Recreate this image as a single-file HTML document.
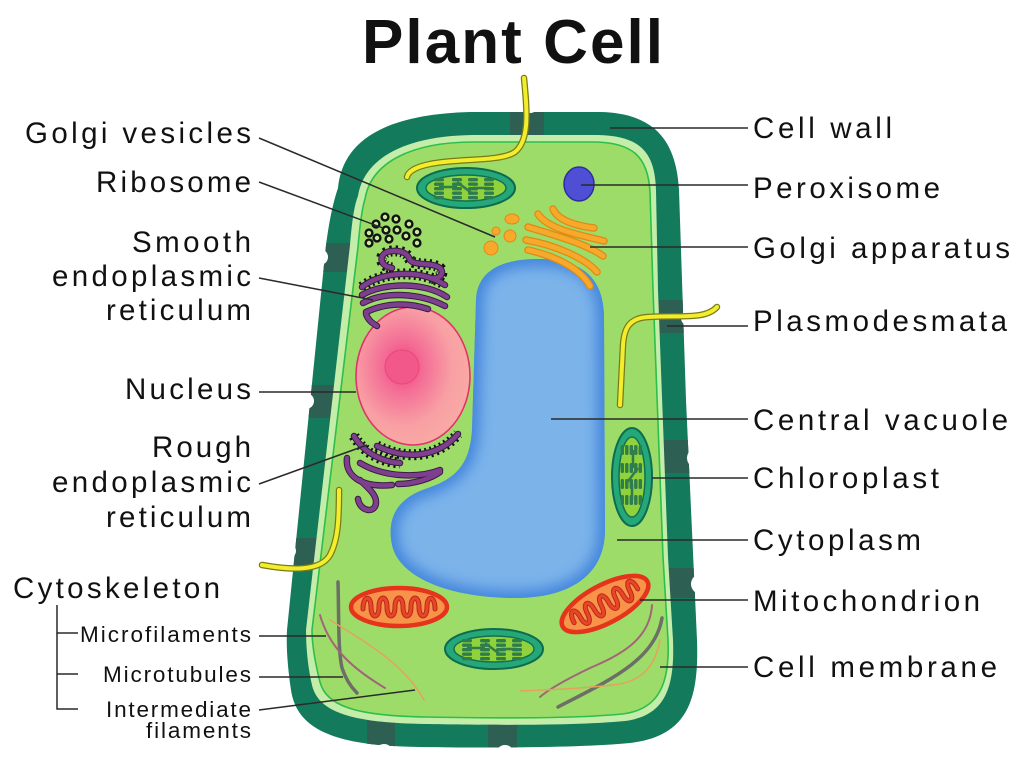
<!DOCTYPE html>
<html><head><meta charset="utf-8"><style>
html,body{margin:0;padding:0;background:#fff;}
svg{display:block;}
text{font-family:"Liberation Sans",Arial,sans-serif;fill:#111;}
</style></head><body>
<svg width="1024" height="759" viewBox="0 0 1024 759" xmlns="http://www.w3.org/2000/svg">
<defs>
<clipPath id="wallClip"><path d="M 338,188 C 343,135 395,114 470,112 L 600,112 C 650,113 676,136 679,190 L 686,400 L 697,640 C 699,700 688,736 630,743 C 580,748 480,748 420,747 C 340,746 297,732 291,690 C 288,670 286,648 287,630 L 326,245 C 330,215 334,200 338,188 Z"/></clipPath>
<clipPath id="vacClip"><path d="M 476,300 C 477,272 500,259 538,259 C 582,259 603,278 604,315 L 605,530 C 605,575 570,598 515,598 C 455,598 400,580 392,545 C 386,515 400,497 428,488 C 458,478 470,462 472,430 L 476,300 Z"/></clipPath>
<filter id="bl" x="-30%" y="-30%" width="160%" height="160%"><feGaussianBlur stdDeviation="7"/></filter>
<radialGradient id="nucG" cx="0.41" cy="0.43" r="0.62">
<stop offset="0" stop-color="#f0407a"/><stop offset="0.3" stop-color="#f46e96"/><stop offset="0.7" stop-color="#f8a0a4"/><stop offset="1" stop-color="#f9aaa4"/>
</radialGradient>
<g id="chl">
<ellipse rx="49" ry="20" fill="#25a879" stroke="#0f6b4e" stroke-width="2"/>
<ellipse rx="40" ry="13" fill="#8fd23c" stroke="#137050" stroke-width="1.5"/>
<g stroke="#2f7d4c" stroke-width="2.5" fill="none">
<line x1="-27" y1="-1" x2="-9" y2="-1"/><line x1="-9" y1="-6" x2="7" y2="6"/><line x1="7" y1="0" x2="23" y2="0"/>
</g>
<g fill="#2f7d4c">
<rect x="-32" y="-10" width="10" height="3.4" rx="1.5"/><rect x="-32" y="-5.5" width="10" height="3.4" rx="1.5"/><rect x="-32" y="-1" width="10" height="3.4" rx="1.5"/><rect x="-32" y="3.5" width="10" height="3.4" rx="1.5"/><rect x="-32" y="8" width="10" height="3.4" rx="1.5"/>
<rect x="-14" y="-10" width="10" height="3.4" rx="1.5"/><rect x="-14" y="-5.5" width="10" height="3.4" rx="1.5"/><rect x="-14" y="-1" width="10" height="3.4" rx="1.5"/><rect x="-14" y="3.5" width="10" height="3.4" rx="1.5"/><rect x="-14" y="8" width="10" height="3.4" rx="1.5"/>
<rect x="2" y="-10" width="10" height="3.4" rx="1.5"/><rect x="2" y="-5.5" width="10" height="3.4" rx="1.5"/><rect x="2" y="-1" width="10" height="3.4" rx="1.5"/><rect x="2" y="3.5" width="10" height="3.4" rx="1.5"/><rect x="2" y="8" width="10" height="3.4" rx="1.5"/>
<rect x="18" y="-10" width="10" height="3.4" rx="1.5"/><rect x="18" y="-5.5" width="10" height="3.4" rx="1.5"/><rect x="18" y="-1" width="10" height="3.4" rx="1.5"/><rect x="18" y="3.5" width="10" height="3.4" rx="1.5"/><rect x="18" y="8" width="10" height="3.4" rx="1.5"/>
</g>
</g>
<g id="mito">
<ellipse rx="48" ry="19" fill="#f7944a" stroke="#e5331c" stroke-width="4.5"/>
<path d="M -36,2 C -36,-12 -28,-12 -28,0 C -28,12 -20,12 -20,0 C -20,-12 -12,-12 -12,0 C -12,12 -4,12 -4,0 C -4,-12 4,-12 4,0 C 4,12 12,12 12,0 C 12,-12 20,-12 20,0 C 20,12 28,12 28,0 C 28,-12 36,-12 36,2" fill="none" stroke="#b82a18" stroke-width="5" stroke-linecap="round"/>
<path d="M -36,2 C -36,-12 -28,-12 -28,0 C -28,12 -20,12 -20,0 C -20,-12 -12,-12 -12,0 C -12,12 -4,12 -4,0 C -4,-12 4,-12 4,0 C 4,12 12,12 12,0 C 12,-12 20,-12 20,0 C 20,12 28,12 28,0 C 28,-12 36,-12 36,2" fill="none" stroke="#e8452a" stroke-width="3" stroke-linecap="round"/>
</g>
</defs>

<rect width="1024" height="759" fill="#fff"/>

<!-- Title -->
<text x="362" y="63" font-size="62" font-weight="bold" textLength="301" lengthAdjust="spacing">Plant Cell</text>

<!-- Cell wall -->
<path d="M 338,188 C 343,135 395,114 470,112 L 600,112 C 650,113 676,136 679,190 L 686,400 L 697,640 C 699,700 688,736 630,743 C 580,748 480,748 420,747 C 340,746 297,732 291,690 C 288,670 286,648 287,630 L 326,245 C 330,215 334,200 338,188 Z" fill="#137a5b"/>
<g clip-path="url(#wallClip)" fill="#2d5f52">
<rect x="510" y="100" width="34" height="40"/>
<rect x="310" y="243" width="45" height="29"/>
<rect x="296" y="385" width="45" height="33"/>
<rect x="278" y="538" width="45" height="28"/>
<rect x="650" y="300" width="50" height="33"/>
<rect x="655" y="440" width="50" height="33"/>
<rect x="660" y="568" width="50" height="30"/>
<rect x="367" y="712" width="28" height="50"/>
<rect x="488" y="712" width="29" height="50"/>
</g>
<g fill="#fff">
<circle cx="530" cy="104" r="9"/>
<circle cx="320" cy="257" r="8"/>
<circle cx="306" cy="401" r="8"/>
<circle cx="289" cy="551" r="7"/>
<circle cx="689" cy="318" r="8"/>
<circle cx="697" cy="458" r="10"/>
<circle cx="701" cy="584" r="10"/>
<circle cx="384" cy="753" r="9"/>
<circle cx="505" cy="754" r="9"/>
</g>
<!-- light band -->
<path d="M 358,196 C 364,158 405,136 472,135 L 598,135 C 638,136 655,150 656,190 L 658,290 L 668,557 L 673,640 C 675,690 664,716 625,721 C 575,726 480,725 425,724 C 352,723 318,712 312,685 C 308,668 306,648 306,630 L 350,245 C 352,222 354,206 358,196 Z" fill="#c3eda8"/>
<!-- membrane / cytoplasm -->
<path d="M 365,199 C 371,163 410,142 474,142 L 596,142 C 632,143 648,156 650,192 L 653,290 L 663,557 L 668,640 C 670,685 658,710 622,714 C 573,719 480,718 427,717 C 356,716 326,706 320,682 C 316,666 312,648 312,630 L 358,247 C 360,224 362,208 365,199 Z" fill="#9edc6a" stroke="#2cbf4a" stroke-width="1.6"/>

<!-- Vacuole -->
<g clip-path="url(#vacClip)">
<rect x="380" y="250" width="235" height="360" fill="#5a9ce4"/>
<path d="M 476,300 C 477,272 500,259 538,259 C 582,259 603,278 604,315 L 605,530 C 605,575 570,598 515,598 C 455,598 400,580 392,545 C 386,515 400,497 428,488 C 458,478 470,462 472,430 L 476,300 Z" fill="#7cb4ea" stroke="#3a82dc" stroke-width="16" filter="url(#bl)"/>
</g>

<!-- Nucleus -->
<ellipse cx="413" cy="376" rx="57" ry="69" fill="url(#nucG)" stroke="#e2336c" stroke-width="1.6"/>
<circle cx="402" cy="367" r="17" fill="#f2588a" stroke="#e6487a" stroke-width="1"/>

<!-- ER -->
<g fill="none" stroke-linecap="round">
<g stroke="#111" stroke-width="11" stroke-dasharray="2 3.5" stroke-linecap="butt">
<path d="M 392,268 C 378,266 378,252 392,251 C 402,250 408,254 410,260 C 414,266 432,262 440,268 C 445,273 440,280 430,278"/>
<path d="M 362,287 C 380,272 420,268 445,285"/>
<path d="M 354,436 C 365,455 385,462 400,463"/>
<path d="M 377,446 C 410,462 440,455 458,434"/>
</g>
<g stroke="#3b1a45" stroke-width="6.5">
<path d="M 392,268 C 378,266 378,252 392,251 C 402,250 408,254 410,260 C 414,266 432,262 440,268 C 445,273 440,280 430,278"/>
<path d="M 362,287 C 380,272 420,268 445,285"/>
<path d="M 362,295 C 385,282 425,282 447,297"/>
<path d="M 363,303 C 385,291 420,293 445,306"/>
<path d="M 366,312 C 388,302 410,303 428,309"/>
<path d="M 366,314 C 368,320 372,323 377,326"/>
<path d="M 354,436 C 365,455 385,462 400,463"/>
<path d="M 377,446 C 410,462 440,455 458,434"/>
<path d="M 360,463 C 385,478 420,478 440,470"/>
<path d="M 398,484 C 415,484 432,478 440,472"/>
<path d="M 347,458 C 345,475 360,488 392,485"/>
<path d="M 360,480 C 368,488 376,494 376,502 C 376,514 360,512 358,499"/>
</g>
<g stroke="#7f3f8f" stroke-width="4.5">
<path d="M 392,268 C 378,266 378,252 392,251 C 402,250 408,254 410,260 C 414,266 432,262 440,268 C 445,273 440,280 430,278"/>
<path d="M 362,287 C 380,272 420,268 445,285"/>
<path d="M 362,295 C 385,282 425,282 447,297"/>
<path d="M 363,303 C 385,291 420,293 445,306"/>
<path d="M 366,312 C 388,302 410,303 428,309"/>
<path d="M 366,314 C 368,320 372,323 377,326"/>
<path d="M 354,436 C 365,455 385,462 400,463"/>
<path d="M 377,446 C 410,462 440,455 458,434"/>
<path d="M 360,463 C 385,478 420,478 440,470"/>
<path d="M 398,484 C 415,484 432,478 440,472"/>
<path d="M 347,458 C 345,475 360,488 392,485"/>
<path d="M 360,480 C 368,488 376,494 376,502 C 376,514 360,512 358,499"/>
</g>
</g>

<!-- Ribosomes -->
<g fill="#c9ec9c" stroke="#111" stroke-width="2.4">
<circle cx="385" cy="217" r="3.4"/><circle cx="396" cy="219" r="3.4"/><circle cx="409" cy="224" r="3.4"/>
<circle cx="376" cy="224" r="3.4"/><circle cx="386" cy="230" r="3.4"/><circle cx="397" cy="230" r="3.4"/>
<circle cx="417" cy="232" r="3.4"/><circle cx="369" cy="233" r="3.4"/><circle cx="377" cy="238" r="3.4"/>
<circle cx="389" cy="239" r="3.4"/><circle cx="406" cy="236" r="3.4"/><circle cx="369" cy="243" r="3.4"/>
<circle cx="417" cy="243" r="3.4"/>
</g>

<!-- Golgi apparatus -->
<g fill="none" stroke-linecap="round">
<g stroke="#df8a14" stroke-width="7.5">
<path d="M 553,209 C 558,221 578,226 594,228"/>
<path d="M 538,214 C 548,230 585,236 604,241"/>
<path d="M 528,227 C 550,234 585,243 603,256"/>
<path d="M 526,240 C 555,245 585,258 597,272"/>
<path d="M 528,250 C 555,256 580,268 590,286"/>
</g>
<g stroke="#f7a92c" stroke-width="5">
<path d="M 553,209 C 558,221 578,226 594,228"/>
<path d="M 538,214 C 548,230 585,236 604,241"/>
<path d="M 528,227 C 550,234 585,243 603,256"/>
<path d="M 526,240 C 555,245 585,258 597,272"/>
<path d="M 528,250 C 555,256 580,268 590,286"/>
</g>
</g>
<g fill="#f7a92c" stroke="#df8a14" stroke-width="1">
<ellipse cx="512" cy="219" rx="7" ry="5"/>
<circle cx="496" cy="231" r="4"/>
<circle cx="510" cy="236" r="6"/>
<circle cx="491" cy="248" r="7"/>
</g>

<!-- Peroxisome -->
<ellipse cx="579" cy="184" rx="15" ry="17" fill="#4f4fd6" stroke="#2d2da0" stroke-width="1.5"/>

<!-- Chloroplasts -->
<use href="#chl" transform="translate(466,188)"/>
<use href="#chl" transform="translate(632,477) rotate(90)"/>
<use href="#chl" transform="translate(494,649)"/>

<!-- Mitochondria -->
<use href="#mito" transform="translate(399,607)"/>
<use href="#mito" transform="translate(605,604) rotate(-28)"/>

<!-- Cytoskeleton -->
<g fill="none" stroke-linecap="round">
<path d="M 338,582 C 339,620 338,650 342,668 C 346,680 352,688 357,693" stroke="#6d6e66" stroke-width="3.5"/>
<path d="M 320,615 C 330,650 355,670 385,688" stroke="#a06677" stroke-width="2"/>
<path d="M 330,620 C 370,645 405,665 424,700" stroke="#e6a060" stroke-width="1.5"/>
<path d="M 652,605 C 650,640 620,655 590,668 C 565,680 548,690 540,697" stroke="#a06677" stroke-width="2"/>
<path d="M 662,618 C 655,660 610,680 558,707" stroke="#6d6e66" stroke-width="3.5"/>
<path d="M 660,640 C 655,668 640,680 620,684 C 590,688 550,690 520,691" stroke="#e6a060" stroke-width="1.5"/>
</g>

<!-- Plasmodesmata strands -->
<g fill="none" stroke-linecap="round">
<g stroke="#7a7a18" stroke-width="6.5">
<path d="M 524,78 C 527,110 530,140 515,152 C 500,162 460,158 430,164 C 415,167 408,172 407,177"/>
<path d="M 717,307 C 705,320 680,315 648,317 C 628,318 624,330 623,345 L 620,405"/>
<path d="M 262,565 C 290,570 320,572 330,555 C 338,540 339,520 339,490"/>
</g>
<g stroke="#f3ee2c" stroke-width="4">
<path d="M 524,78 C 527,110 530,140 515,152 C 500,162 460,158 430,164 C 415,167 408,172 407,177"/>
<path d="M 717,307 C 705,320 680,315 648,317 C 628,318 624,330 623,345 L 620,405"/>
<path d="M 262,565 C 290,570 320,572 330,555 C 338,540 339,520 339,490"/>
</g>
</g>

<!-- Leader lines -->
<g stroke="#2a2a2a" stroke-width="1.5" fill="none">
<line x1="259" y1="138" x2="495" y2="237"/>
<line x1="259" y1="182" x2="383" y2="228"/>
<line x1="259" y1="278" x2="373" y2="300"/>
<line x1="259" y1="392" x2="356" y2="392"/>
<line x1="259" y1="484" x2="367" y2="445"/>
<line x1="259" y1="636" x2="326" y2="636"/>
<line x1="259" y1="677" x2="343" y2="677"/>
<line x1="259" y1="710" x2="415" y2="690"/>
<line x1="610" y1="128" x2="748" y2="128"/>
<line x1="581" y1="185" x2="748" y2="185"/>
<line x1="590" y1="247" x2="748" y2="247"/>
<line x1="667" y1="326" x2="748" y2="326"/>
<line x1="551" y1="419" x2="748" y2="419"/>
<line x1="652" y1="478" x2="748" y2="478"/>
<line x1="617" y1="540" x2="748" y2="540"/>
<line x1="640" y1="600" x2="748" y2="600"/>
<line x1="660" y1="667" x2="748" y2="667"/>
<polyline points="78,633 57,633 57,605"/>
<polyline points="57,633 57,709 78,709"/>
<line x1="57" y1="674" x2="78" y2="674"/>
</g>

<!-- Left labels -->
<g font-size="29.5">
<text x="25" y="143" textLength="226" lengthAdjust="spacing">Golgi vesicles</text>
<text x="96" y="192" textLength="155" lengthAdjust="spacing">Ribosome</text>
<text x="132" y="252" textLength="119" lengthAdjust="spacing">Smooth</text>
<text x="52" y="286" textLength="199" lengthAdjust="spacing">endoplasmic</text>
<text x="106" y="320" textLength="145" lengthAdjust="spacing">reticulum</text>
<text x="125" y="399" textLength="126" lengthAdjust="spacing">Nucleus</text>
<text x="152" y="457" textLength="99" lengthAdjust="spacing">Rough</text>
<text x="52" y="492" textLength="199" lengthAdjust="spacing">endoplasmic</text>
<text x="106" y="527" textLength="145" lengthAdjust="spacing">reticulum</text>
<text x="13" y="598" textLength="207" lengthAdjust="spacing">Cytoskeleton</text>
</g>
<g font-size="22.5">
<text x="80" y="642" textLength="171" lengthAdjust="spacing">Microfilaments</text>
<text x="103" y="682" textLength="148" lengthAdjust="spacing">Microtubules</text>
<text x="106" y="717" textLength="145" lengthAdjust="spacing">Intermediate</text>
<text x="146" y="738" textLength="105" lengthAdjust="spacing">filaments</text>
</g>

<!-- Right labels -->
<g font-size="29.5">
<text x="753" y="138" textLength="139" lengthAdjust="spacing">Cell wall</text>
<text x="753" y="198" textLength="187" lengthAdjust="spacing">Peroxisome</text>
<text x="753" y="258" textLength="257" lengthAdjust="spacing">Golgi apparatus</text>
<text x="753" y="331" textLength="254" lengthAdjust="spacing">Plasmodesmata</text>
<text x="753" y="430" textLength="255" lengthAdjust="spacing">Central vacuole</text>
<text x="753" y="488" textLength="186" lengthAdjust="spacing">Chloroplast</text>
<text x="753" y="550" textLength="168" lengthAdjust="spacing">Cytoplasm</text>
<text x="753" y="611" textLength="227" lengthAdjust="spacing">Mitochondrion</text>
<text x="753" y="677" textLength="244" lengthAdjust="spacing">Cell membrane</text>
</g>
</svg>
</body></html>
